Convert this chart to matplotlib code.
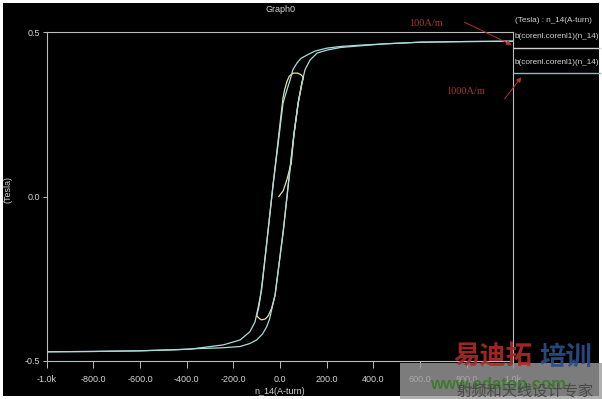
import matplotlib
matplotlib.use("Agg")
import matplotlib.pyplot as plt
from matplotlib.patches import Rectangle
from matplotlib.lines import Line2D

# major loop, +/-1000 A/m
major_desc_H = [1000, 800, 600, 450, 343, 260, 201, 150, 116, 90, 73, 55, 43, 28, 13, -8, -29, -57, -79,
                -93, -107, -129, -171, -243, -386, -600, -800, -1000]
major_desc_B = [0.472, 0.471, 0.469, 0.464, 0.460, 0.456, 0.451, 0.442, 0.430, 0.420, 0.406, 0.385, 0.354,
                0.320, 0.284, 0.160, 0.040, -0.142, -0.284, -0.335, -0.381, -0.411, -0.436, -0.451,
                -0.464, -0.469, -0.471, -0.472]
major_asc_H = [-1000, -800, -600, -450, -343, -250, -171, -130, -100, -75, -57, -45, -36, -21, 14, 43, 60,
               78, 94, 107, 129, 159, 201, 260, 343, 450, 600, 800, 1000]
major_asc_B = [-0.472, -0.471, -0.469, -0.466, -0.462, -0.460, -0.456, -0.447, -0.436, -0.418, -0.396,
               -0.373, -0.345, -0.298, -0.105, 0.085, 0.190, 0.285, 0.345, 0.385, 0.415, 0.436, 0.445,
               0.453, 0.458, 0.464, 0.469, 0.471, 0.472]

# minor loop, +/-100 A/m, with initial magnetisation curve
init_H = [-5, 14, 29, 40, 48]
init_B = [0.0, 0.018, 0.050, 0.080, 0.100]
minor_asc1_H = [48, 60, 78, 94, 100]
minor_asc1_B = [0.100, 0.190, 0.285, 0.345, 0.362]
minor_desc_H = [100, 90, 77, 56, 40, 30, 20, 13, 0, -29, -57, -75, -85, -92, -100]
minor_desc_B = [0.362, 0.370, 0.375, 0.375, 0.366, 0.350, 0.325, 0.300, 0.220, 0.040, -0.142, -0.255,
                -0.310, -0.340, -0.362]
minor_asc_H = [-100, -90, -79, -62, -50, -36, -21, 14, 43, 60, 78, 94, 100]
minor_asc_B = [-0.362, -0.370, -0.375, -0.372, -0.362, -0.340, -0.300, -0.105, 0.085, 0.190, 0.285,
               0.345, 0.362]

x_ticks = [-1000, -800, -600, -400, -200, 0, 200, 400, 600, 800, 1000]
x_tick_labels = ["-1.0k", "-800.0", "-600.0", "-400.0", "-200.0", "0.0", "200.0", "400.0", "600.0",
                 "800.0", "1.0k"]
y_ticks = [-0.5, 0.0, 0.5]
y_tick_labels = ["-0.5", "0.0", "0.5"]

W, H = 602, 399
txt = "#d4d4d4"
frame = "#bcbcbc"
c_major = "#a9dcdc"
c_minor = "#e4e4a6"
cjk = ["Noto Sans CJK SC", "DejaVu Sans"]

plt.rcParams["font.family"] = ["Liberation Sans", "DejaVu Sans"]

fig = plt.figure(figsize=(W / 100, H / 100), dpi=100)
fig.patch.set_facecolor("white")
fig.add_artist(Rectangle((3 / W, 3 / H), 596 / W, 393 / H, transform=fig.transFigure,
                         facecolor="black", edgecolor="none", zorder=-5))

ax = fig.add_axes([46.7 / W, (H - 361) / H, 466.6 / W, 329 / H])
ax.set_facecolor("black")
ax.plot(init_H, init_B, color=c_minor, lw=0.9)
ax.plot(minor_asc1_H, minor_asc1_B, color=c_minor, lw=0.9)
ax.plot(minor_desc_H, minor_desc_B, color=c_minor, lw=0.9)
ax.plot(minor_asc_H, minor_asc_B, color=c_minor, lw=0.9)
ax.plot(major_desc_H, major_desc_B, color=c_major, lw=0.9)
ax.plot(major_asc_H, major_asc_B, color=c_major, lw=0.9)

ax.set_xlim(-1000, 1000)
ax.set_ylim(-0.5, 0.5)
ax.set_xticks(x_ticks)
ax.set_xticklabels(x_tick_labels)
ax.set_yticks(y_ticks)
ax.set_yticklabels(y_tick_labels)
ax.tick_params(colors=frame, labelcolor=txt, labelsize=6.5, length=5, width=0.7, direction="out")
ax.tick_params(axis="x", pad=5)
ax.tick_params(axis="y", pad=2, length=3)
for s in ax.spines.values():
    s.set_color(frame)
    s.set_linewidth(0.8)
ax.set_xlabel("n_14(A-turn)", color=txt, fontsize=6.5, labelpad=2)
ax.set_ylabel("(Tesla)", color=txt, fontsize=6.5)
ax.yaxis.set_label_coords(-0.074, 0.52)

fig.text(280 / W, 1 - 10 / H, "Graph0", ha="center", va="center", color=txt, fontsize=6.5)

# legend on the right
fig.text(515 / W, 1 - 21 / H, "(Tesla) : n_14(A-turn)", ha="left", va="center", color=txt, fontsize=5.9)
fig.text(515 / W, 1 - 37 / H, "b(corenl.corenl1)(n_14)", ha="left", va="center", color=txt, fontsize=5.9)
fig.add_artist(Line2D([514 / W, 600 / W], [1 - 47.5 / H] * 2, color="#cfcfcf", lw=1.0))
fig.text(515 / W, 1 - 63 / H, "b(corenl.corenl1)(n_14)", ha="left", va="center", color=txt, fontsize=5.9)
fig.add_artist(Line2D([514 / W, 600 / W], [1 - 73 / H] * 2, color="#8fb8b8", lw=1.0))

# red notes
red = "#a83434"
fig.text(426 / W, 1 - 23 / H, "100A/m", ha="center", va="center", color=red, fontsize=7.5,
         family="Liberation Serif")
fig.text(466 / W, 1 - 92 / H, "1000A/m", ha="center", va="center", color=red, fontsize=7.5,
         family="Liberation Serif")
ap = dict(arrowstyle="-|>", color="#b83030", lw=0.7, mutation_scale=7)
ax.annotate("", xy=(514 / W, 1 - 46 / H), xytext=(462 / W, 1 - 21 / H),
            xycoords="figure fraction", textcoords="figure fraction", arrowprops=ap, annotation_clip=False)
ax.annotate("", xy=(523 / W, 1 - 75 / H), xytext=(503 / W, 1 - 101 / H),
            xycoords="figure fraction", textcoords="figure fraction", arrowprops=ap, annotation_clip=False)

# site watermark
fig.add_artist(Rectangle((400 / W, 0), 202 / W, (H - 363) / H, transform=fig.transFigure,
                         facecolor="#9c9c9c", edgecolor="none", alpha=0.8, zorder=5))
fig.text(493 / W, 1 - 357 / H, "易迪拓", ha="center", va="center", color="#b02a2a", fontsize=19,
         family=cjk, weight="bold", alpha=0.9, zorder=6)
fig.text(566 / W, 1 - 357 / H, "培训", ha="center", va="center", color="#2a4f8c", fontsize=19,
         family=cjk, weight="bold", alpha=0.9, zorder=6)
fig.text(498 / W, 1 - 384 / H, "www.edatop.com", ha="center", va="center", color="#3f7a30",
         fontsize=12, weight="bold", zorder=6)
fig.text(525 / W, 1 - 391 / H, "射频和天线设计专家", ha="center", va="center", color="#4a4a4a",
         fontsize=11, family=cjk, zorder=7)

fig.savefig("out.png", dpi=100, facecolor=fig.get_facecolor())
